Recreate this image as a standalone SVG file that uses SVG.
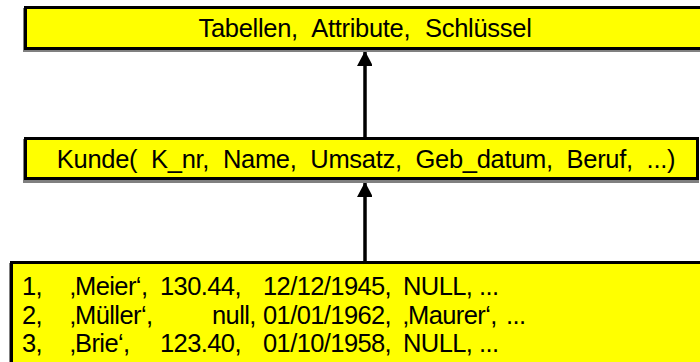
<svg xmlns="http://www.w3.org/2000/svg" width="700" height="362" viewBox="0 0 700 362">
  <style>
    .box { fill: #ffff00; stroke: #000; stroke-width: 3; }
    .shadow { fill: #808080; }
    .lbl { font-family: "Liberation Sans", Arial, sans-serif; font-size: 25.5px; fill: #000; letter-spacing: -0.3px; }
    .row { letter-spacing: -0.6px; }
    .mid { text-anchor: middle; }
    .edge { stroke: #000; stroke-width: 3.5; fill: none; marker-end: url(#head); }
  </style>
  <defs>
    <marker id="head" markerUnits="userSpaceOnUse" markerWidth="17" markerHeight="15" refX="14" refY="8" orient="auto">
      <path d="M0,0 L15,8 L0,16 Z" fill="#000"/>
    </marker>
  </defs>

  <rect width="700" height="362" fill="#fff"/>

  <!-- connectors: instance -> schema -> meta model -->
  <g id="connectors">
    <line class="edge" x1="365" y1="262" x2="365" y2="183"/>
    <line class="edge" x1="365" y1="138" x2="365" y2="52"/>
  </g>

  <g id="meta">
    <rect class="shadow" x="23" y="8" width="690" height="44"/>
    <rect class="box" x="25.5" y="7.5" width="690" height="41"/>
    <text class="lbl mid" x="365" y="37" style="word-spacing:8px">Tabellen, Attribute, Schlüssel</text>
  </g>

  <g id="schema">
    <rect class="shadow" x="23" y="139" width="676" height="44"/>
    <rect class="box" x="25.5" y="138.5" width="672" height="40"/>
    <text class="lbl mid" x="366" y="168" style="word-spacing:7px">Kunde( K_nr, Name, Umsatz, Geb_datum, Beruf, ...)</text>
  </g>

  <g id="instances">
    <rect class="shadow" x="9" y="263" width="700" height="110"/>
    <rect class="box" x="11.5" y="262.5" width="700" height="110"/>
    <g class="lbl row">
      <text x="22" y="295">1,</text>
      <text x="70" y="295">‚Meier‘,</text>
      <text x="160" y="295">130.44,</text>
      <text x="263" y="295">12/12/1945,</text>
      <text x="403" y="295">NULL,</text>
      <text x="479" y="295">...</text>

      <text x="22" y="324">2,</text>
      <text x="70" y="324">‚Müller‘,</text>
      <text x="212" y="324">null,</text>
      <text x="263" y="324">01/01/1962,</text>
      <text x="403" y="324">‚Maurer‘,</text>
      <text x="506" y="324">...</text>

      <text x="22" y="352">3,</text>
      <text x="70" y="352">‚Brie‘,</text>
      <text x="160" y="352">123.40,</text>
      <text x="263" y="352">01/10/1958,</text>
      <text x="403" y="352">NULL,</text>
      <text x="479" y="352">...</text>
    </g>
  </g>
</svg>
